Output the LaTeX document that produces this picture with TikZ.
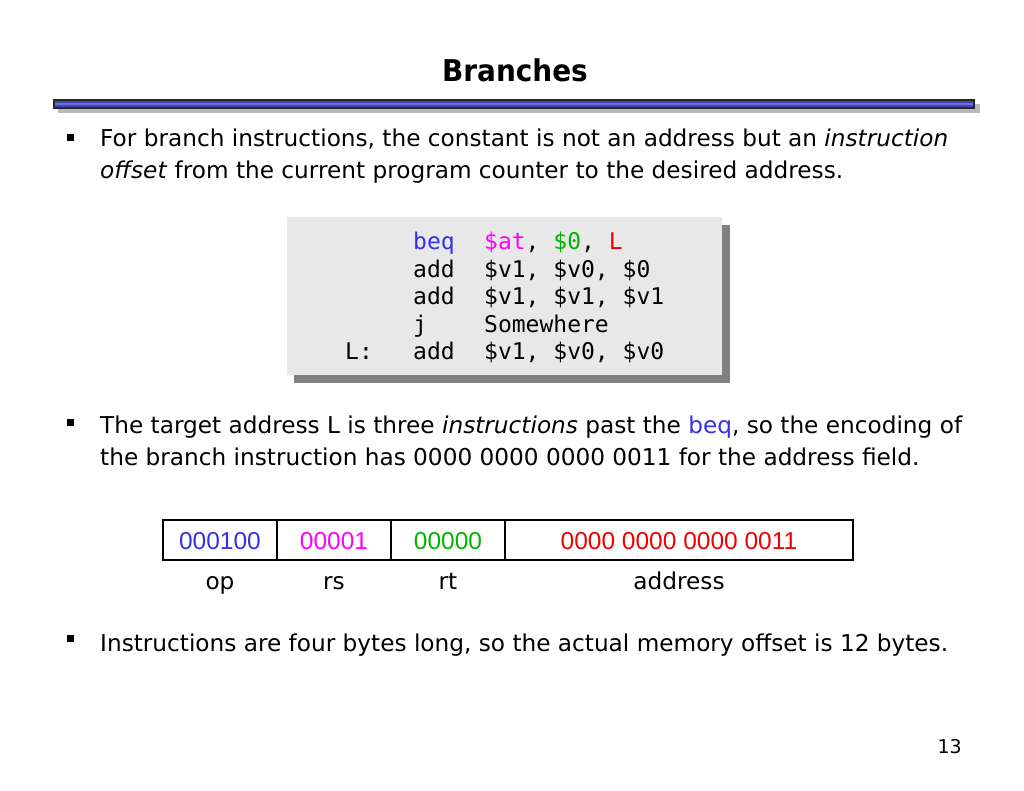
\documentclass[tikz,border=0pt]{standalone}
\usepackage{fontspec}
\setmainfont{DejaVu Sans}
\newfontfamily\titlefont{DejaVu Sans}[FakeStretch=0.93]
\newfontfamily\codefont{DejaVu Sans Mono}
\newfontfamily\tabfont{Liberation Sans}
\definecolor{cblue}{RGB}{51,51,230}
\definecolor{cmag}{RGB}{255,0,255}
\definecolor{cgreen}{RGB}{0,180,0}
\definecolor{cred}{RGB}{240,0,0}
\definecolor{barblue}{RGB}{70,70,180}
\definecolor{barlight}{RGB}{110,110,215}
\definecolor{boxgray}{RGB}{232,232,232}
\definecolor{shadowgray}{RGB}{128,128,128}
\tikzset{
  txt/.style={anchor=base west, inner sep=0pt, font=\fontsize{23.2}{27}\selectfont},
  code/.style={anchor=base west, inner sep=0pt, font=\codefont\fontsize{23}{27}\selectfont},
  cell/.style={anchor=base, inner sep=0pt, font=\tabfont\fontsize{24.5}{28}\selectfont},
  lbl/.style={anchor=base, inner sep=0pt, font=\fontsize{23.2}{27}\selectfont},
  bulletsq/.style={fill=black, inner sep=0pt, minimum size=7pt, anchor=center},
}
\begin{document}
\begin{tikzpicture}[x=1pt,y=-1pt]
\useasboundingbox (0,0) rectangle (1024,791);
% title
\node[anchor=base, inner sep=0pt, font=\titlefont\bfseries\fontsize{30}{34}\selectfont] (title) at (515,82) {Branches};
\fill[gray!55] (58,104) rectangle (980,113);
\fill[barblue, draw=black!85, line width=1.2pt] (54,100) rectangle (974,108);
\draw[barlight, line width=1.2pt] (55,104) -- (973,104);
% bullet 1
\node[bulletsq] (b1) at (70.5,137.5) {};
\node[txt] (t1a) at (100,147) {For branch instructions, the constant is not an address but an \textit{instruction}};
\node[txt] (t1b) at (100,178.5) {\textit{offset} from the current program counter to the desired address.};
% code box
\fill[shadowgray] (294,225) rectangle (730,383);
\fill[boxgray] (287,217) rectangle (722,375);
\node[code] (m1) at (413,249.5) {\textcolor{cblue}{beq}};
\node[code] (o1) at (484,249.5) {\textcolor{cmag}{\$at}, \textcolor{cgreen}{\$0}, \textcolor{cred}{L}};
\node[code] (m2) at (413,277) {add};
\node[code] (o2) at (484,277) {\$v1, \$v0, \$0};
\node[code] (m3) at (413,304.5) {add};
\node[code] (o3) at (484,304.5) {\$v1, \$v1, \$v1};
\node[code] (m4) at (413,332) {j};
\node[code] (o4) at (484,332) {Somewhere};
\node[code] (l5) at (345,359.5) {L:};
\node[code] (m5) at (413,359.5) {add};
\node[code] (o5) at (484,359.5) {\$v1, \$v0, \$v0};
% bullet 2
\node[bulletsq] (b2) at (70.5,422) {};
\node[txt] (t2a) at (100,433.5) {The target address L is three \textit{instructions} past the \textcolor{cblue}{beq}, so the encoding of};
\node[txt] (t2b) at (100,465) {the branch instruction has 0000 0000 0000 0011 for the address field.};
% table
\draw[line width=1.5pt] (163,520) rectangle (853,560);
\draw[line width=1.5pt] (277,520) -- (277,560);
\draw[line width=1.5pt] (391,520) -- (391,560);
\draw[line width=1.5pt] (505,520) -- (505,560);
\node[cell, text=cblue] (c1) at (220,549) {000100};
\node[cell, text=cmag] (c2) at (334,549) {00001};
\node[cell, text=cgreen] (c3) at (448,549) {00000};
\node[cell, text=cred] (c4) at (679,549) {0000 0000 0000 0011};
\node[lbl] (l1) at (220,589) {op};
\node[lbl] (l2) at (334,589) {rs};
\node[lbl] (l3) at (448,589) {rt};
\node[lbl] (l4) at (679,589) {address};
% bullet 3
\node[bulletsq] (b3) at (70.5,638) {};
\node[txt] (t3) at (100,651.5) {Instructions are four bytes long, so the actual memory offset is 12 bytes.};
% page number
\node[anchor=base east, inner sep=0pt, font=\fontsize{19}{22}\selectfont] (pg) at (962,753) {13};
\end{tikzpicture}
\end{document}
